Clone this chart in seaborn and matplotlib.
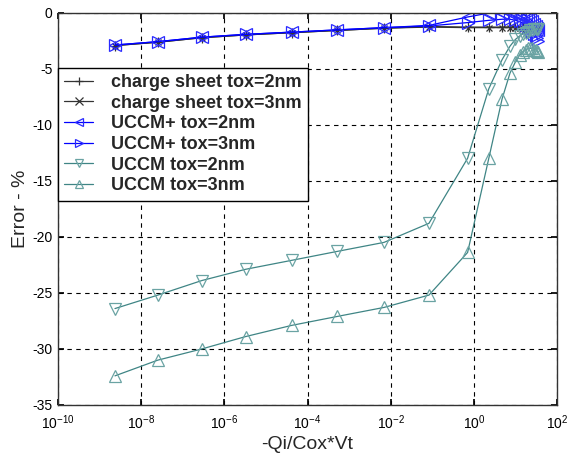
import numpy as np
import pandas as pd
import matplotlib
matplotlib.use("Agg")
import matplotlib.pyplot as plt
import seaborn as sns

# --- data (x is -Qi/(Cox*Vt), y is error in %) ---
log_qi = [-8.63, -7.60, -6.54, -5.49, -4.38, -3.28, -2.16, -1.08, -0.15, 0.36,
          0.68, 0.87, 1.00, 1.10, 1.18, 1.25, 1.31, 1.36, 1.41, 1.45, 1.49, 1.52, 1.55]
qi_norm = [10 ** v for v in log_qi]

cs_tox2 = [-2.95, -2.65, -2.25, -2.0, -1.8, -1.6, -1.4, -1.25, -1.3, -1.3, -1.3, -1.3,
           -1.3, -1.3, -1.3, -1.3, -1.3, -1.3, -1.3, -1.3, -1.3, -1.3, -1.3]
cs_tox3 = [-2.95, -2.65, -2.25, -2.0, -1.8, -1.6, -1.4, -1.3, -1.35, -1.35, -1.35, -1.35,
           -1.35, -1.35, -1.35, -1.35, -1.35, -1.35, -1.35, -1.35, -1.35, -1.35, -1.35]
uccmp_tox2 = [-2.9, -2.6, -2.2, -1.95, -1.75, -1.55, -1.35, -1.15, -0.4, -0.05, 0.0, 0.0,
              0.0, -0.05, -0.15, -0.3, -0.45, -0.6, -0.8, -1.0, -1.2, -1.4, -1.6]
uccmp_tox3 = [-2.9, -2.6, -2.2, -1.95, -1.75, -1.55, -1.35, -1.2, -0.9, -0.7, -0.6, -0.6,
              -0.7, -0.8, -0.95, -1.1, -1.3, -1.5, -1.7, -1.9, -2.1, -2.3, -2.5]
uccm_tox2 = [-26.4, -25.2, -23.9, -22.9, -22.1, -21.3, -20.5, -18.8, -13.0, -6.8, -4.2, -3.0,
             -2.4, -2.1, -1.9, -1.8, -1.7, -1.6, -1.6, -1.5, -1.5, -1.5, -1.5]
uccm_tox3 = [-32.4, -31.0, -30.0, -28.9, -27.9, -27.1, -26.3, -25.2, -21.4, -13.0, -7.7, -5.4,
             -4.4, -3.8, -3.5, -3.3, -3.2, -3.2, -3.2, -3.3, -3.3, -3.4, -3.5]

labels = ["charge sheet tox=2nm", "charge sheet tox=3nm", "UCCM+ tox=2nm",
          "UCCM+ tox=3nm", "UCCM tox=2nm", "UCCM tox=3nm"]
series = [cs_tox2, cs_tox3, uccmp_tox2, uccmp_tox3, uccm_tox2, uccm_tox3]

# styles per curve
line_colors = ["#333333", "#333333", "#0000ff", "#0000ff", "#3f8585", "#3f8585"]
edge_colors = ["#333333", "#333333", "#2a2aff", "#2a2aff", "#6aa3a3", "#6aa3a3"]
markers = ["+", "x", "<", ">", "v", "^"]
msizes = [7, 4, 8, 8, 8, 8]

sns.set_theme(style="white")
plt.rcParams["font.family"] = ["Liberation Sans", "DejaVu Sans"]
plt.rcParams["axes.unicode_minus"] = False
plt.rcParams["mathtext.default"] = "regular"

fig = plt.figure(figsize=(5.67, 4.58), dpi=100)
ax = fig.add_axes([58 / 567, 1 - 405 / 458, (557 - 58) / 567, (405 - 12.5) / 458])

for lab, ys, lc, ec, mk, ms in zip(labels, series, line_colors, edge_colors, markers, msizes):
    sns.lineplot(x=qi_norm, y=ys, ax=ax, color=lc, linewidth=0.9, label=lab,
                 marker=mk, markersize=ms, markerfacecolor="none",
                 markeredgecolor=ec, markeredgewidth=0.9, sort=False)

ax.set_xscale("log")
ax.set_xlim(1e-10, 1e2)
ax.set_ylim(-35, 0)
ax.set_xticks([1e-10, 1e-8, 1e-6, 1e-4, 1e-2, 1e0, 1e2])
ax.xaxis.set_minor_locator(matplotlib.ticker.NullLocator())
ax.set_yticks(np.arange(-35, 1, 5))
ax.grid(True, color="black", linestyle=(0, (4, 4)), linewidth=0.8)
ax.tick_params(direction="in", length=4, labelsize=10, colors="black",
               top=True, right=True, bottom=True, left=True)
ax.tick_params(axis="x", pad=6)
ax.tick_params(axis="y", pad=4)
for s in ax.spines.values():
    s.set_color("#333333")
    s.set_linewidth(1.0)

ax.set_xlabel("-Qi/Cox*Vt", fontsize=14, labelpad=3)
ax.set_ylabel("Error - %", fontsize=14, labelpad=2)

leg = ax.legend(loc="upper left", bbox_to_anchor=(0.0, 0.859), frameon=True,
                fancybox=False, edgecolor="black", framealpha=1,
                prop={"weight": "bold", "size": 13}, handlelength=1.6,
                handletextpad=1.0, labelspacing=0.2, borderaxespad=0.0,
                borderpad=0.35)
leg.get_frame().set_linewidth(1.0)
for h in leg.legend_handles:
    h.set_markersize(6)

fig.savefig("out.png", dpi=100)
